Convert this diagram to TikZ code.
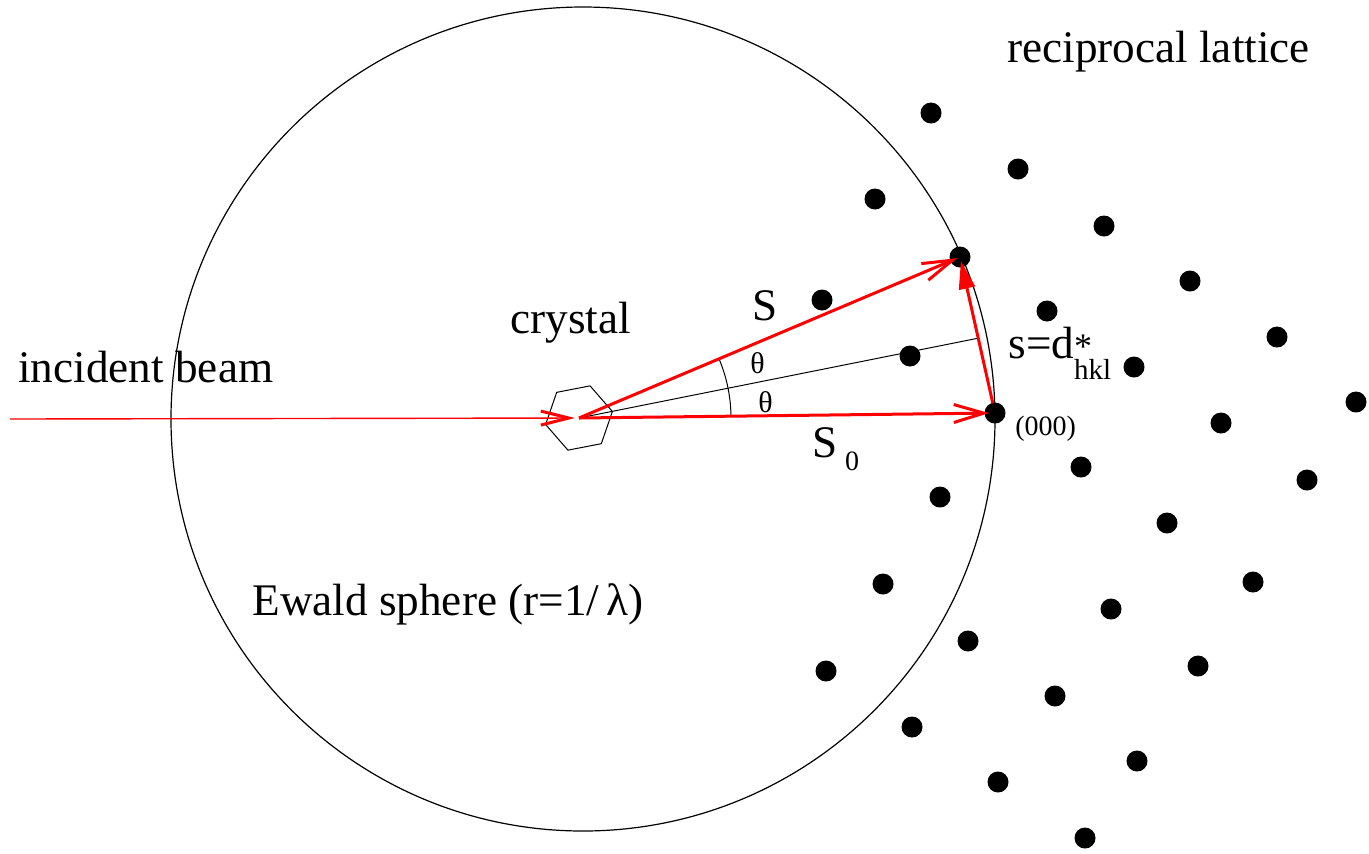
\documentclass[tikz,border=0pt]{standalone}
\usepackage{fontspec}
\setmainfont{Liberation Serif}
\usepackage{tikz}
\usetikzlibrary{arrows.meta, shapes.geometric}
\definecolor{beam}{RGB}{255,0,0}

\begin{document}
\begin{tikzpicture}[
  x=0.5pt, y=-0.5pt,
  spot/.style={circle, fill=black, inner sep=0pt, minimum size=10.5pt},
  vec/.style={draw=beam, line width=1.5pt, -{Straight Barb[length=15pt, width=9pt]}},
  lbl/.style={anchor=base west, inner sep=0pt, font=\fontsize{22.6}{27}\selectfont},
  tag/.style={anchor=base west, inner sep=0pt, font=\fontsize{15}{17}\selectfont}
]
  \useasboundingbox (0,0) rectangle (1369,853);

  % Ewald sphere and crystal
  \node[circle, draw, line width=0.6pt, minimum size=412pt, inner sep=0pt] (ewald) at (583,419) {};
  \node[regular polygon, regular polygon sides=6, draw, line width=0.5pt,
        minimum size=34pt, inner sep=0pt, rotate=11] (xtal) at (579,418) {};

  % reciprocal lattice points
  \foreach \px/\py [count=\i] in {931/113, 1018/169, 875/199, 1104/226, 1190/281,
      822/300, 1047/311, 1277/337, 910/356, 1134/367, 1356/402, 1221/423,
      1081/467, 1307/480, 940/497, 1167/523, 1253/582, 883/584, 1111/609,
      968/641, 1198/666, 826/671, 1055/696, 912/727, 1137/761, 998/782, 1085/838}
    \node[spot] (p\i) at (\px,\py) {};
  \node[spot] (hkl) at (960,257) {};
  \node[spot] (o000) at (995,413) {};

  \coordinate (src) at (10,419);
  \coordinate (rim) at (979,338);

  % beam and vectors
  \draw[beam, line width=0.7pt, shorten >=2pt,
        -{Straight Barb[length=14pt, width=7pt, line width=1.5pt]}] (src) -- (xtal.center);
  \draw[line width=0.5pt] (xtal.center) -- (rim);
  \draw[line width=0.5pt] ([shift={(0.8:76pt)}]xtal.center) arc[start angle=0.8, end angle=23, radius=76pt];
  \draw[vec, shorten >=1.5pt] (xtal.center) -- (hkl.center);
  \draw[vec, shorten >=3pt] (xtal.center) -- (o000.center);
  \draw[beam, line width=1.5pt, shorten <=5pt, shorten >=2pt,
        -{Triangle[length=14pt, width=8pt]}] (o000.center) -- (hkl.center);

  % labels
  \node[lbl] (reclab) at (1007,62) {reciprocal lattice};
  \node[lbl] (beamlab) at (18,382) {incident beam};
  \node[lbl] (xtallab) at (510,333) {crystal};
  \node[lbl] (ewaldlab) at (252,615) {Ewald sphere (r=1/\,λ)};
  \node[lbl] (Slab) at (752,320) {S};
  \node[lbl] (S0lab) at (812,457) {S\,\raisebox{-0.3em}{\fontsize{14}{14}\selectfont 0}};
  \node[tag] (th1) at (750,373) {θ};
  \node[tag] (th2) at (758,412) {θ};
  \node[lbl] (slab) at (1008,358) {s=d\rlap{\fontsize{18}{18}\selectfont *}\raisebox{-0.48em}{\fontsize{14.5}{15}\selectfont hkl}};
  \node[tag, font=\fontsize{14}{16}\selectfont] (o000lab) at (1015,435) {(000)};
\end{tikzpicture}
\end{document}
